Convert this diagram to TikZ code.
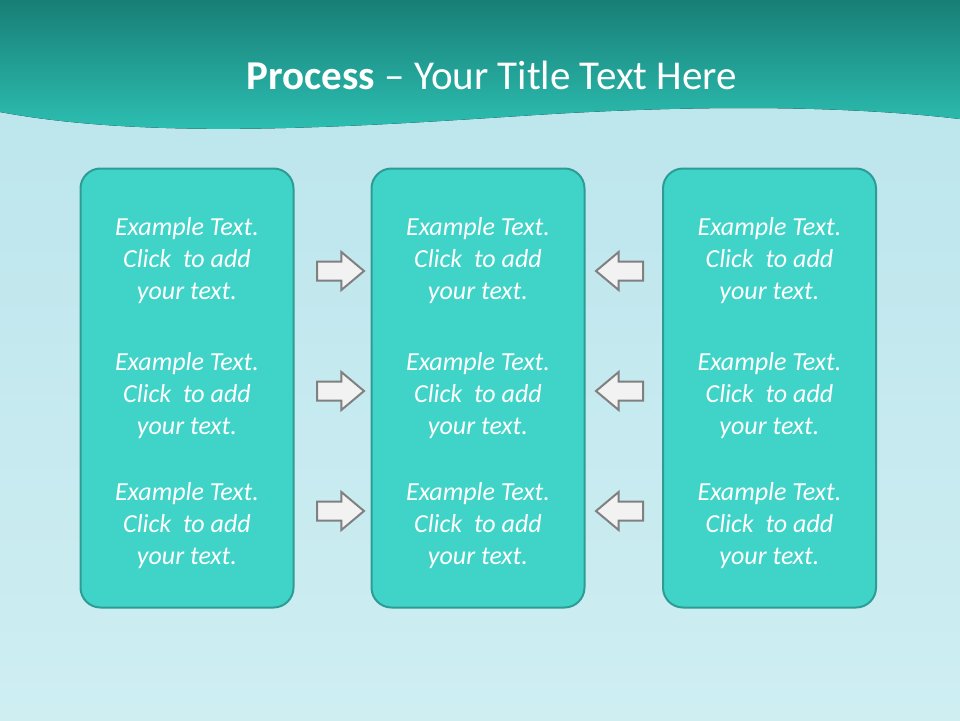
\documentclass[tikz,border=0pt]{standalone}
\usepackage{fontspec}
\setmainfont{Carlito}
\usepackage{xcolor}
\usetikzlibrary{shapes.arrows, positioning}
\definecolor{headtop}{RGB}{24,126,118}
\definecolor{headbot}{RGB}{46,196,182}
\definecolor{bgtop}{RGB}{186,228,236}
\definecolor{bgbot}{RGB}{206,238,242}
\definecolor{boxfill}{RGB}{64,212,200}
\definecolor{boxline}{RGB}{44,156,148}
\definecolor{arrowfill}{RGB}{242,242,242}
\definecolor{arrowline}{RGB}{128,128,128}
\tikzstyle{column} = [draw=boxline, line width=2pt, fill=boxfill, rectangle, rounded corners=20pt, minimum width=213pt, minimum height=439pt]
\tikzstyle{boxtext} = [text=white, align=center, font=\fontsize{26}{32}\selectfont\itshape]
\tikzstyle{pointer} = [single arrow, draw=arrowline, line width=2pt, fill=arrowfill, inner sep=8.5pt, minimum height=47pt, single arrow head extend=9.5pt, single arrow tip angle=80, anchor=tail]

\begin{document}
\begin{tikzpicture}[x=1pt, y=-1pt]
    \useasboundingbox (0,0) rectangle (960,720);
    % background and header band
    \fill[top color=bgtop, bottom color=bgbot] (0,0) rectangle (960,720);
    \fill[top color=headtop, bottom color=headbot] (0,0) -- (960,0) -- (960,119)
        .. controls (850,106) and (700,104) .. (520,116)
        .. controls (350,127) and (150,140) .. (0,112) -- cycle;
    \node (title) [text=white, font=\fontsize{41}{48}\selectfont] at (492,75) {\textbf{Process} -- Your Title Text Here};

    \node (boxL) [column] at (187,388) {};
    \node (boxM) [column] at (478,388) {};
    \node (boxR) [column] at (769.5,388) {};

    \node (tL1) [boxtext] at (187,261) {Example Text.\\Click~ to add\\your text.};
    \node (tL2) [boxtext] at (187,396) {Example Text.\\Click~ to add\\your text.};
    \node (tL3) [boxtext] at (187,526) {Example Text.\\Click~ to add\\your text.};
    \node (tM1) [boxtext] at (478,261) {Example Text.\\Click~ to add\\your text.};
    \node (tM2) [boxtext] at (478,396) {Example Text.\\Click~ to add\\your text.};
    \node (tM3) [boxtext] at (478,526) {Example Text.\\Click~ to add\\your text.};
    \node (tR1) [boxtext] at (769.5,261) {Example Text.\\Click~ to add\\your text.};
    \node (tR2) [boxtext] at (769.5,396) {Example Text.\\Click~ to add\\your text.};
    \node (tR3) [boxtext] at (769.5,526) {Example Text.\\Click~ to add\\your text.};

    \node (inL1) [pointer] at (316,271) {};
    \node (inL2) [pointer] at (316,391) {};
    \node (inL3) [pointer] at (316,511) {};
    \node (inR1) [pointer, shape border rotate=180] at (644,271) {};
    \node (inR2) [pointer, shape border rotate=180] at (644,391) {};
    \node (inR3) [pointer, shape border rotate=180] at (644,511) {};
\end{tikzpicture}
\end{document}
